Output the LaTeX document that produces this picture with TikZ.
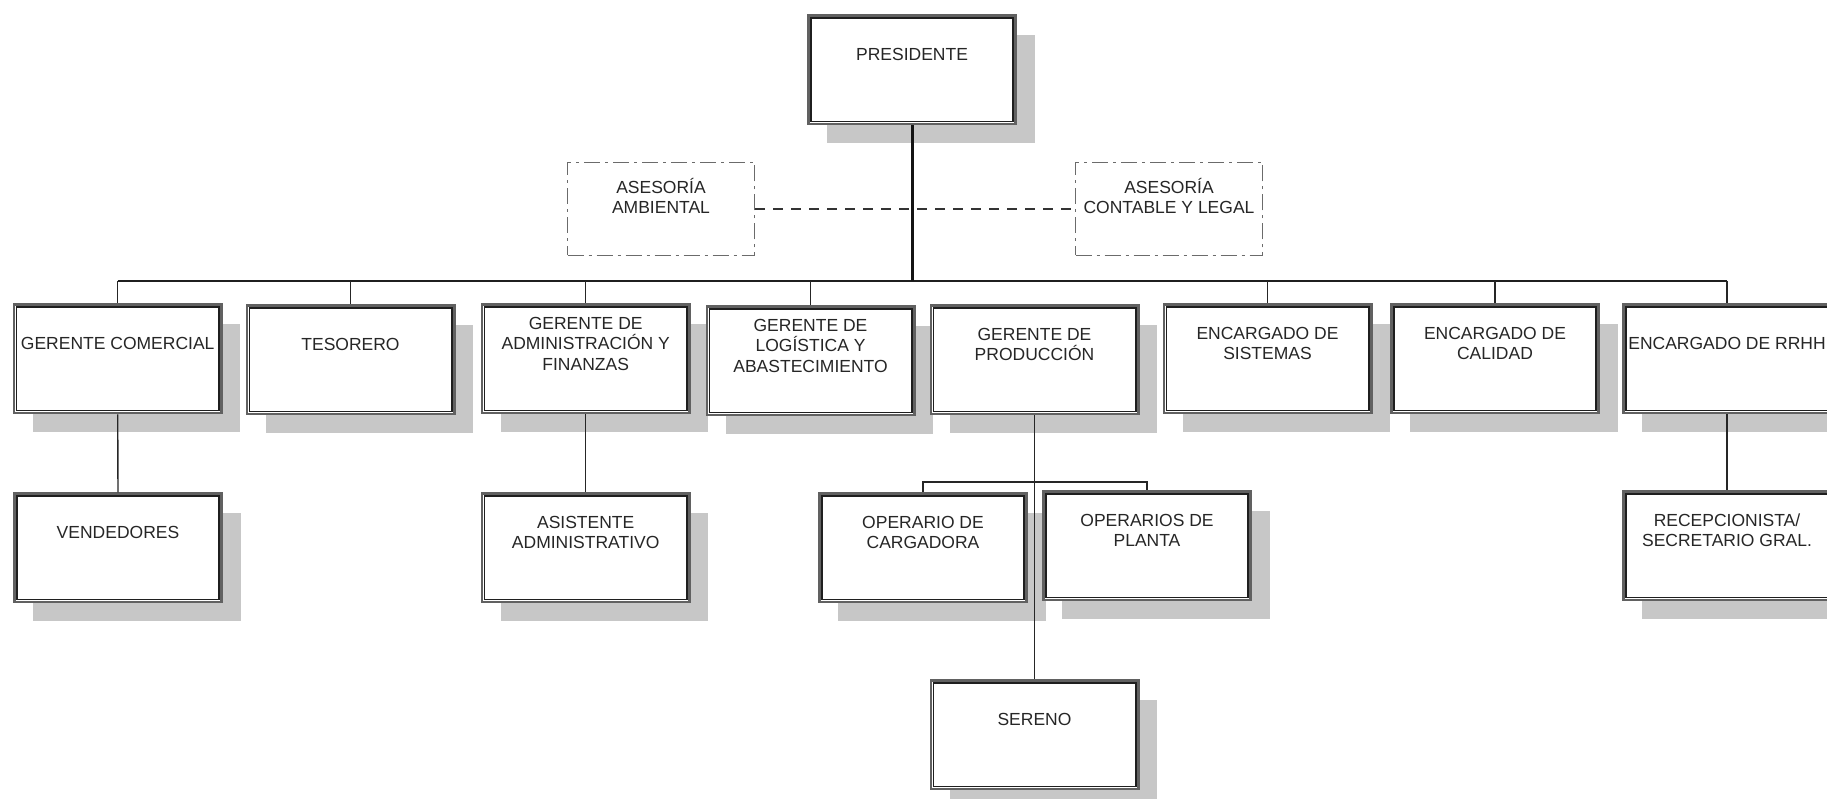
\documentclass[tikz,border=0pt]{standalone}
\usepackage{fontspec}
\setmainfont{Liberation Sans}
\usetikzlibrary{shadows}

% strut that keeps every text line the same height and depth
\newcommand{\ls}{\rule[-4pt]{0pt}{16.5pt}}

% framed position box: name, centre x, top y, text
\newcommand{\orgbox}[4]{%
  \node[orgbox] (#1) at (#2,#3+1.3) {};
  \draw[innerline] ([shift={(3.8,3.8)}]#1.north west) rectangle ([shift={(-3.8,-3.8)}]#1.south east);
  \node[orgtext] (#1-t) at ([yshift=-42pt]#1.north) {#4};
}

\begin{document}
\begin{tikzpicture}[x=1pt,y=-1pt,
  orgbox/.style={draw=black!62, line width=2.6pt, fill=white, anchor=north,
    minimum width=207.4pt, minimum height=108.4pt, inner sep=0pt,
    drop shadow={shadow xshift=19pt, shadow yshift=-19pt, fill=black!22, opacity=1}},
  innerline/.style={draw=black!88, line width=1.6pt},
  orgtext/.style={font=\fontsize{17.5pt}{20.5pt}\selectfont, text=black!85,
    align=center, inner sep=0pt, anchor=center},
  advbox/.style={draw=black!58, line width=1.3pt,
    dash pattern=on 16pt off 5pt on 3pt off 5pt,
    minimum width=187pt, minimum height=93pt, inner sep=0pt},
  trunk/.style={draw=black!92, line width=3pt},
  busline/.style={draw=black!88, line width=1.9pt},
  tick/.style={draw=black!85, line width=1.4pt},
  dashline/.style={draw=black!80, line width=2pt, dash pattern=on 10pt off 8pt}
]
\clip (0,0) rectangle (1827,799);
\fill[white] (0,0) rectangle (1827,799);

% top level
\orgbox{pres}{912}{13}{\ls PRESIDENTE}

% advisory units
\node[advbox] (amb) at (661,209) {};
\node[orgtext] (amb-t) at ([yshift=11pt]amb.center) {\ls ASESORÍA\\\ls AMBIENTAL};
\node[advbox] (cont) at (1169,209) {};
\node[orgtext] (cont-t) at ([yshift=11pt]cont.center) {\ls ASESORÍA\\\ls CONTABLE Y LEGAL};

% second level
\orgbox{comercial}{117.7}{302}{\ls GERENTE COMERCIAL}
\orgbox{tesorero}{350.5}{303}{\ls TESORERO}
\orgbox{admin}{585.7}{302}{\ls GERENTE DE\\\ls ADMINISTRACIÓN Y\\\ls FINANZAS}
\orgbox{logistica}{810.5}{304}{\ls GERENTE DE\\\ls LOGÍSTICA Y\\\ls ABASTECIMIENTO}
\orgbox{produccion}{1034.5}{303}{\ls GERENTE DE\\\ls PRODUCCIÓN}
\orgbox{sistemas}{1267.5}{302}{\ls ENCARGADO DE\\\ls SISTEMAS}
\orgbox{calidad}{1495}{302}{\ls ENCARGADO DE\\\ls CALIDAD}
\orgbox{rrhh}{1727}{302}{\ls ENCARGADO DE RRHH}

% third level
\orgbox{vendedores}{118}{491}{\ls VENDEDORES}
\orgbox{asistente}{585.7}{491}{\ls ASISTENTE\\\ls ADMINISTRATIVO}
\orgbox{cargadora}{923}{491}{\ls OPERARIO DE\\\ls CARGADORA}
\orgbox{planta}{1147}{489}{\ls OPERARIOS DE\\\ls PLANTA}
\orgbox{recepcion}{1727}{489}{\ls RECEPCIONISTA/\\\ls SECRETARIO GRAL.}

% fourth level
\orgbox{sereno}{1034.5}{678}{\ls SERENO}

% main bus
\coordinate (busL) at (118,281);
\coordinate (busR) at (1727,281);
\draw[busline] (busL) -- (busR);
\draw[trunk] (pres.south) -- (pres.south |- busL);
\foreach \n in {comercial,tesorero,admin,logistica,sistemas,calidad,rrhh}
  \draw[tick] (\n.north |- busL) -- (\n.north);

% staff link
\draw[dashline] (amb.east) -- (cont.west);

% lower links
\draw[tick] (comercial.south) -- (vendedores.north);
\draw[tick] (admin.south) -- (asistente.north);
\draw[tick] (rrhh.south) -- (recepcion.north);
\draw[tick] (produccion.south) -- (sereno.north);
\coordinate (subbus) at (1035,482);
\draw[tick] (cargadora.north) -- (cargadora.north |- subbus) -- (planta.north |- subbus) -- (planta.north);
\end{tikzpicture}
\end{document}
